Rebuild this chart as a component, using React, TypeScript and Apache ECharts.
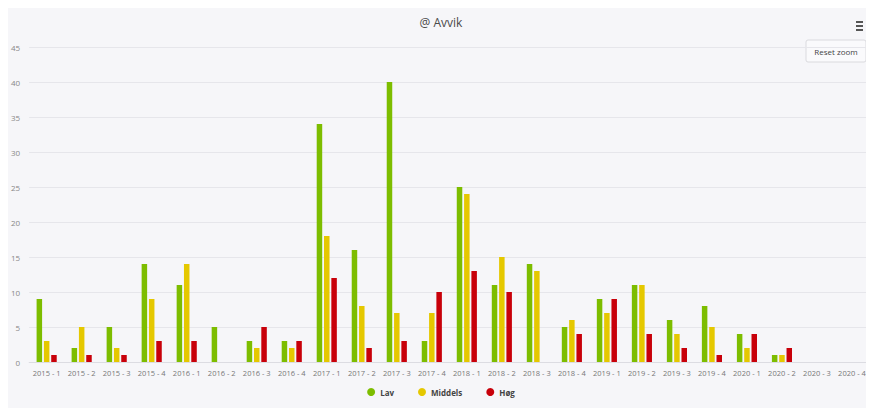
import React, { useEffect, useRef } from "react";
import * as echarts from "echarts";

const categories = [
  "2015 - 1", "2015 - 2", "2015 - 3", "2015 - 4",
  "2016 - 1", "2016 - 2", "2016 - 3", "2016 - 4",
  "2017 - 1", "2017 - 2", "2017 - 3", "2017 - 4",
  "2018 - 1", "2018 - 2", "2018 - 3", "2018 - 4",
  "2019 - 1", "2019 - 2", "2019 - 3", "2019 - 4",
  "2020 - 1", "2020 - 2", "2020 - 3", "2020 - 4",
];
const lav = [9, 2, 5, 14, 11, 5, 3, 3, 34, 16, 40, 3, 25, 11, 14, 5, 9, 11, 6, 8, 4, 1, 0, 0];
const middels = [3, 5, 2, 9, 14, 0, 2, 2, 18, 8, 7, 7, 24, 15, 13, 6, 7, 11, 4, 5, 2, 1, 0, 0];
const hog = [1, 1, 1, 3, 3, 0, 5, 3, 12, 2, 3, 10, 13, 10, 0, 4, 9, 4, 2, 1, 4, 2, 0, 0];
const seriesNames = ["Lav", "Middels", "Høg"];
const colors = ["#7dbd00", "#e5c800", "#c8000a"];

export default function App() {
  const ref = useRef<HTMLDivElement>(null);
  useEffect(() => {
    if (!ref.current) return;
    const chart = echarts.init(ref.current, null, { renderer: "svg" });
    const values = [lav, middels, hog];
    chart.setOption({
      animation: false,
      backgroundColor: "#f6f6f9",
      title: {
        text: "@ Avvik",
        left: "center",
        top: 3,
        textStyle: { fontSize: 12, fontWeight: "normal", color: "#4a4a4a", fontFamily: "Open Sans, sans-serif" },
      },
      legend: {
        bottom: 7,
        left: "center",
        icon: "circle",
        itemWidth: 8,
        itemHeight: 8,
        itemGap: 24,
        textStyle: { fontSize: 8, fontWeight: "bold", color: "#444", fontFamily: "Open Sans, sans-serif" },
        data: seriesNames,
      },
      grid: { left: 17, right: 4.5, top: 39, bottom: 46, containLabel: false },
      xAxis: {
        type: "category",
        data: categories,
        axisTick: { show: false },
        axisLine: { lineStyle: { color: "#dcdce2" } },
        axisLabel: { fontSize: 7.5, color: "#777", margin: 7, interval: 0, fontFamily: "Open Sans, sans-serif" },
      },
      yAxis: {
        type: "value",
        min: 0,
        max: 45,
        interval: 5,
        axisLabel: { fontSize: 8, color: "#888", margin: 9, fontFamily: "Open Sans, sans-serif" },
        splitLine: { lineStyle: { color: "#e6e6eb" } },
        axisLine: { show: false },
        axisTick: { show: false },
      },
      series: seriesNames.map((name, i) => ({
        name,
        type: "bar",
        data: values[i],
        barWidth: 5.5,
        barGap: "33%",
        itemStyle: { color: colors[i] },
      })),
      graphic: [
        { type: "rect", shape: { x: 848, y: 13, width: 7, height: 2 }, style: { fill: "#555" } },
        { type: "rect", shape: { x: 848, y: 17, width: 7, height: 2 }, style: { fill: "#555" } },
        { type: "rect", shape: { x: 848, y: 21, width: 7, height: 2 }, style: { fill: "#555" } },
        {
          type: "rect",
          shape: { x: 798, y: 32, width: 60, height: 22, r: 2 },
          style: { fill: "#fafafc", stroke: "#dadade", lineWidth: 1 },
        },
        {
          type: "text",
          x: 828,
          y: 43,
          style: {
            text: "Reset zoom",
            fontSize: 8,
            fill: "#444",
            align: "center",
            verticalAlign: "middle",
            fontFamily: "Open Sans, sans-serif",
          },
        },
      ],
    });
    return () => chart.dispose();
  }, []);
  return <div ref={ref} style={{ width: 866, height: 400 }} />;
}
